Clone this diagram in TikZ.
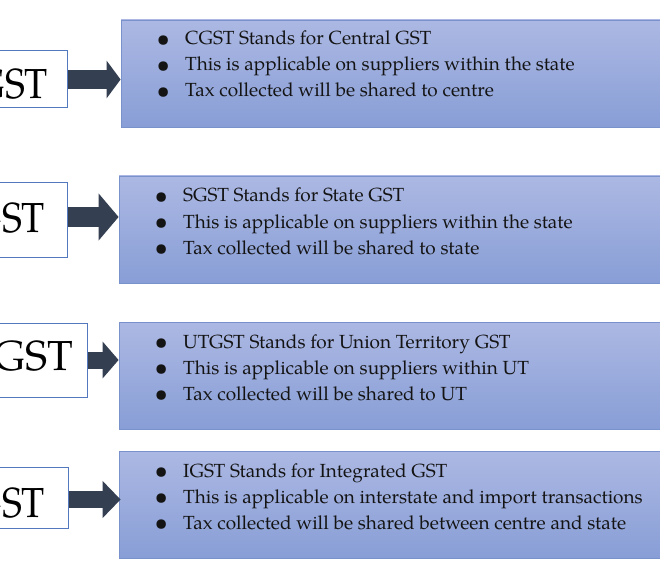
\documentclass[tikz,border=0pt]{standalone}
\usepackage{fontspec}
\usepackage{graphicx}
\setmainfont{TeX Gyre Pagella}
\newfontfamily\gstfont[FakeStretch=0.9]{TeX Gyre Pagella}
\usetikzlibrary{arrows.meta}
\definecolor{arrowc}{RGB}{52,63,82}
\definecolor{btop}{RGB}{172,184,227}
\definecolor{bbot}{RGB}{136,158,214}
\definecolor{bline}{RGB}{122,146,204}
\definecolor{lline}{RGB}{84,120,190}
\definecolor{txt}{RGB}{20,20,20}
\newcommand{\gstbul}{\makebox[0pt]{\raisebox{-1.4pt}{\scalebox{1.25}{\textbullet}}}\hspace{22pt}}
\begin{document}
\begin{tikzpicture}[x=1pt,y=-1pt,
  infobox/.style={draw=bline, line width=0.8pt, top color=btop, bottom color=bbot, rectangle, inner sep=0pt},
  namebox/.style={draw=lline, line width=1pt, fill=white, rectangle, inner sep=0pt, minimum width=140pt},
  gsttext/.style={font=\gstfont\fontsize{42}{50}\selectfont, text=black, inner sep=0pt, anchor=base east},
  gstwide/.style={font=\fontsize{42}{50}\selectfont, text=black, inner sep=0pt, anchor=base east},
  bullets/.style={font=\fontsize{19}{26}\selectfont, text=txt, inner sep=0pt, anchor=base west},
  blockarrow/.style={draw=arrowc}
]
\fill[white] (0,0) rectangle (660,577);
\useasboundingbox (0,0) rectangle (660,577);
\clip (0,0) rectangle (660,577);

% information boxes
\node[infobox, minimum width=544pt, minimum height=107pt] (b1) at (393,73.5) {};
\node[infobox, minimum width=546pt, minimum height=107pt] (b2) at (392,229.5) {};
\node[infobox, minimum width=546pt, minimum height=107pt] (b3) at (392,375.5) {};
\node[infobox, minimum width=546pt, minimum height=107pt] (b4) at (392,504.5) {};

% name boxes
\node[namebox, minimum height=57pt, anchor=east] (l1) at (68,79.5) {};
\node[namebox, minimum height=74pt, anchor=east] (l2) at (68,220) {};
\node[namebox, minimum height=74pt, anchor=east] (l3) at (88,360) {};
\node[namebox, minimum height=61pt, anchor=east] (l4) at (69,497.5) {};

\node[gsttext] (n1) at (48,99) {CGST};
\node[gsttext] (n2) at (45,233) {SGST};
\node[gstwide] (n3) at (73,370) {UTGST};
\node[gsttext] (n4) at (45,517) {IGST};

% arrows
\coordinate (a1) at (l1.east);
\coordinate (a2) at ([yshift=3pt]l2.east);
\coordinate (a3) at (l3.east);
\coordinate (a4) at ([yshift=-2pt]l4.east);
\draw[blockarrow, line width=19pt, -{Triangle[width=37pt,length=14pt]}] (a1) -- (a1 -| b1.west);
\draw[blockarrow, line width=20pt, -{Triangle[width=46pt,length=20pt]}] (a2) -- (a2 -| b2.west);
\draw[blockarrow, line width=17pt, -{Triangle[width=36pt,length=16pt]}] (a3) -- (a3 -| b3.west);
\draw[blockarrow, line width=17pt, -{Triangle[width=36pt,length=18pt]}] (a4) -- ([xshift=2pt]a4 -| b4.west);

% texts
\node[bullets] (t1) at (163,45) {\begin{tabular}[t]{@{}l@{}}
\gstbul CGST Stands for Central GST\\
\gstbul This is applicable on suppliers within the state\\
\gstbul Tax collected will be shared to centre
\end{tabular}};
\node[bullets] (t2) at (161,202) {\begin{tabular}[t]{@{}l@{}}
\gstbul SGST Stands for State GST\\
\gstbul This is applicable on suppliers within the state\\
\gstbul Tax collected will be shared to state
\end{tabular}};
\node[bullets] (t3) at (161,348) {\begin{tabular}[t]{@{}l@{}}
\gstbul UTGST Stands for Union Territory GST\\
\gstbul This is applicable on suppliers within UT\\
\gstbul Tax collected will be shared to UT
\end{tabular}};
\node[bullets] (t4) at (161,477) {\begin{tabular}[t]{@{}l@{}}
\gstbul IGST Stands for Integrated GST\\
\gstbul This is applicable on interstate and import transactions\\
\gstbul Tax collected will be shared between centre and state
\end{tabular}};
\end{tikzpicture}
\end{document}
